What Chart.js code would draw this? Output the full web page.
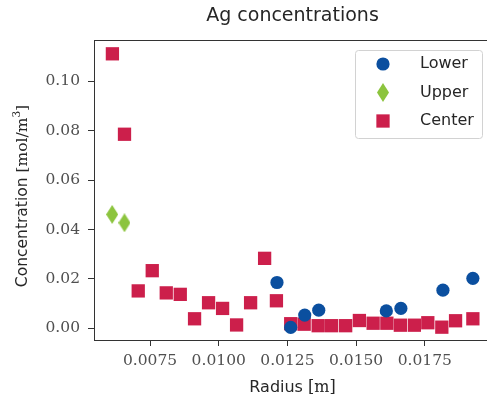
<!DOCTYPE html>
<html>
<head>
<meta charset="utf-8">
<title>Ag concentrations</title>
<script src="https://cdn.jsdelivr.net/npm/chart.js@4.4.1/dist/chart.umd.min.js"></script>
<style>
  html, body { margin: 0; padding: 0; background: #ffffff; overflow: hidden; }
  canvas { display: block; }
</style>
</head>
<body>
<canvas id="chart" width="491" height="405"></canvas>
<script>
// Radius [m] and concentration [mol/m^3] per probe position
const radiusLower = [0.01212, 0.01262, 0.01313, 0.01364, 0.01610, 0.01663, 0.01816, 0.01925];
const concLower   = [0.0185, 0.0003, 0.0053, 0.0073, 0.0070, 0.0080, 0.0154, 0.0202];

const radiusUpper = [0.00612, 0.00657];
const concUpper   = [0.0461, 0.0427];

const radiusCenter = [0.00613, 0.00657, 0.00707, 0.00758, 0.00809, 0.00860, 0.00912, 0.00963,
                      0.01014, 0.01065, 0.01116, 0.01167, 0.01210, 0.01262, 0.01311, 0.01362,
                      0.01411, 0.01462, 0.01512, 0.01562, 0.01612, 0.01661, 0.01712, 0.01761,
                      0.01812, 0.01862, 0.01925];
const concCenter   = [0.1112, 0.0786, 0.0151, 0.0233, 0.0143, 0.0137, 0.0038, 0.0103,
                      0.0080, 0.0013, 0.0103, 0.0283, 0.0111, 0.0018, 0.0016, 0.0010,
                      0.0010, 0.0010, 0.0031, 0.0020, 0.0020, 0.0012, 0.0012, 0.0022,
                      0.0004, 0.0030, 0.0038];

const xTicks = [0.0075, 0.0100, 0.0125, 0.0150, 0.0175];
const yTicks = [0.00, 0.02, 0.04, 0.06, 0.08, 0.10];

const seriesNames = ['Lower', 'Upper', 'Center'];

// Axis titles: word part in sans, unit part in serif
const xTitle = { word: 'Radius ', unit: '[m]' };
const yTitle = { word: 'Concentration ', unit: '[mol/m', sup: '3', close: ']' };

const toPoints = (xs, ys) => xs.map((x, i) => ({ x: x, y: ys[i] }));

// Thin diamond marker as a small sprite
function thinDiamond(w, h, color) {
  const c = document.createElement('canvas');
  c.width = w; c.height = h;
  const g = c.getContext('2d');
  g.fillStyle = color;
  g.beginPath();
  g.moveTo(w / 2, 0);
  g.lineTo(w, h / 2);
  g.lineTo(w / 2, h);
  g.lineTo(0, h / 2);
  g.closePath();
  g.fill();
  return c;
}

const BLUE = '#0b4f9f';
const GREEN = '#8cc43e';
const RED = '#cc1f4b';
const TEXT = '#262626';
const TICKTEXT = '#505050';
const AXIS = '#333333';
const SANS = '"DejaVu Sans"';
const SERIF = '"DejaVu Serif"';

// Box around the plotting area
const frame = {
  id: 'frame',
  afterDatasetsDraw(chart) {
    const { ctx, chartArea: a } = chart;
    ctx.save();
    ctx.strokeStyle = AXIS;
    ctx.lineWidth = 1;
    ctx.strokeRect(a.left + 0.5, a.top + 0.5, a.right - a.left - 1, a.bottom - a.top);
    ctx.restore();
  }
};

// Axis titles with mixed fonts
const axisTitles = {
  id: 'axisTitles',
  afterDraw(chart) {
    const { ctx, chartArea: a } = chart;
    ctx.save();
    ctx.fillStyle = TEXT;
    ctx.textBaseline = 'middle';
    ctx.textAlign = 'left';

    // x axis title
    const fx1 = '16px ' + SANS, fx2 = '16px ' + SERIF;
    ctx.font = fx1; const wx1 = ctx.measureText(xTitle.word).width;
    ctx.font = fx2; const wx2 = ctx.measureText(xTitle.unit).width;
    const x0 = (a.left + a.right) / 2 - (wx1 + wx2) / 2;
    const yx = a.bottom + 48;
    ctx.font = fx1; ctx.fillText(xTitle.word, x0, yx);
    ctx.font = fx2; ctx.fillText(xTitle.unit, x0 + wx1, yx);

    // y axis title, rotated
    const fy1 = '15.5px ' + SANS, fy2 = '15.5px ' + SERIF, fy3 = '10.5px ' + SERIF;
    ctx.font = fy1; const w1 = ctx.measureText(yTitle.word).width;
    ctx.font = fy2; const w2 = ctx.measureText(yTitle.unit).width;
    ctx.font = fy3; const w3 = ctx.measureText(yTitle.sup).width;
    ctx.font = fy2; const w4 = ctx.measureText(yTitle.close).width;
    const total = w1 + w2 + w3 + w4;
    ctx.translate(a.left - 71, (a.top + a.bottom) / 2 + 6);
    ctx.rotate(-Math.PI / 2);
    let s = -total / 2;
    ctx.font = fy1; ctx.fillText(yTitle.word, s, 0); s += w1;
    ctx.font = fy2; ctx.fillText(yTitle.unit, s, 0); s += w2;
    ctx.font = fy3; ctx.fillText(yTitle.sup, s, -6); s += w3;
    ctx.font = fy2; ctx.fillText(yTitle.close, s, 0);
    ctx.restore();
  }
};

// Framed legend in the upper right corner of the plot
const boxLegend = {
  id: 'boxLegend',
  afterDraw(chart) {
    const { ctx, chartArea: a } = chart;
    const right = a.right - 9, top = a.top + 10;
    const w = 127, h = 88, left = right - w;
    ctx.save();
    ctx.beginPath();
    ctx.roundRect(left + 0.5, top + 0.5, w, h, 3);
    ctx.fillStyle = 'rgba(255,255,255,0.85)';
    ctx.fill();
    ctx.strokeStyle = '#d2d2d2';
    ctx.lineWidth = 1;
    ctx.stroke();
    ctx.font = '16px ' + SANS;
    ctx.textBaseline = 'middle';
    chart.data.datasets.forEach((ds, i) => {
      const y = top + 14 + i * 28.5;
      ctx.fillStyle = ds.backgroundColor;
      Chart.helpers.drawPoint(ctx, {
        pointStyle: ds.pointStyle,
        radius: ds.pointRadius,
        rotation: 0,
        borderWidth: 0
      }, left + 28, y);
      ctx.fillStyle = TEXT;
      ctx.fillText(ds.label, left + 65, y);
    });
    ctx.restore();
  }
};

new Chart(document.getElementById('chart'), {
  type: 'scatter',
  data: {
    datasets: [
      {
        label: seriesNames[0],
        data: toPoints(radiusLower, concLower),
        pointStyle: 'circle',
        pointRadius: 6.6,
        backgroundColor: BLUE,
        borderColor: BLUE,
        borderWidth: 0
      },
      {
        label: seriesNames[1],
        data: toPoints(radiusUpper, concUpper),
        pointStyle: thinDiamond(12, 19, GREEN),
        pointRadius: 8,
        backgroundColor: GREEN,
        borderColor: GREEN,
        borderWidth: 0
      },
      {
        label: seriesNames[2],
        data: toPoints(radiusCenter, concCenter),
        pointStyle: 'rect',
        pointRadius: 9.4,
        backgroundColor: RED,
        borderColor: RED,
        borderWidth: 0
      }
    ]
  },
  options: {
    responsive: false,
    animation: false,
    events: [],
    devicePixelRatio: 1,
    layout: { autoPadding: false, padding: { left: 0, right: 0, top: 0, bottom: 0 } },
    plugins: {
      legend: { display: false },
      tooltip: { enabled: false },
      title: {
        display: true,
        text: 'Ag concentrations',
        fullSize: false,
        color: TEXT,
        font: { family: 'DejaVu Sans', size: 19, weight: 'normal', lineHeight: 1.2 },
        padding: { top: 5, bottom: 12.2 }
      }
    },
    scales: {
      x: {
        type: 'linear',
        min: 0.00546,
        max: 0.01991,
        afterBuildTicks: s => { s.ticks = xTicks.map(v => ({ value: v })); },
        afterFit: s => { s.height = 65; },
        grid: { display: true, drawOnChartArea: false, drawTicks: true, tickLength: 6, color: AXIS },
        border: { display: true, color: AXIS, width: 1 },
        ticks: {
          color: TICKTEXT,
          padding: 6,
          maxRotation: 0,
          font: { family: 'DejaVu Serif', size: 15.5 },
          callback: v => v.toFixed(4)
        },
        title: { display: false }
      },
      y: {
        type: 'linear',
        min: -0.0048,
        max: 0.1168,
        afterBuildTicks: s => { s.ticks = yTicks.map(v => ({ value: v })); },
        afterFit: s => { s.width = 94; },
        grid: { display: true, drawOnChartArea: false, drawTicks: true, tickLength: 6, color: AXIS },
        border: { display: true, color: AXIS, width: 1 },
        ticks: {
          color: TICKTEXT,
          padding: 8,
          font: { family: 'DejaVu Serif', size: 15.5 },
          callback: v => v.toFixed(2)
        },
        title: { display: false }
      }
    }
  },
  plugins: [frame, axisTitles, boxLegend]
});
</script>
</body>
</html>
